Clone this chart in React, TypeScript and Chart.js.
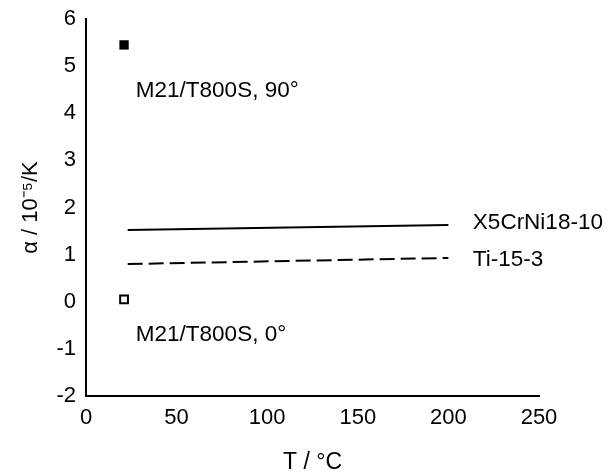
import React, { useEffect, useRef } from "react";
import { Chart, registerables } from "chart.js";

Chart.register(...registerables);

const filled90X = [21];
const filled90Y = [5.45];
const open0X = [21];
const open0Y = [0.05];
const steelX = [23, 200];
const steelY = [1.52, 1.63];
const titanX = [23, 200];
const titanY = [0.8, 0.93];

const xTicks = [0, 50, 100, 150, 200, 250];
const yTicks = [-2, -1, 0, 1, 2, 3, 4, 5, 6];

const labelTexts = ["M21/T800S, 90°", "M21/T800S, 0°", "X5CrNi18-10", "Ti-15-3"];
const labelX = [27.5, 27.5, 213.5, 213.5];
const labelY = [4.47, -0.71, 1.67, 0.9];

const FONT = "'Liberation Sans', Arial, sans-serif";

const toPts = (xs: number[], ys: number[]) => xs.map((x, i) => ({ x, y: ys[i] }));

const labelPlugin = {
  id: "labels",
  afterDatasetsDraw(chart: any) {
    const { ctx, scales } = chart;
    ctx.save();
    ctx.fillStyle = "#000";
    ctx.font = `22.5px ${FONT}`;
    ctx.textAlign = "left";
    ctx.textBaseline = "middle";
    labelTexts.forEach((t, i) => {
      ctx.fillText(t, scales.x.getPixelForValue(labelX[i]), scales.y.getPixelForValue(labelY[i]));
    });
    ctx.restore();
  },
};

export default function App() {
  const ref = useRef<HTMLCanvasElement>(null);
  useEffect(() => {
    if (!ref.current) return;
    const chart = new Chart(ref.current, {
      type: "scatter",
      data: {
        datasets: [
          {
            label: "X5CrNi18-10",
            data: toPts(steelX, steelY),
            showLine: true,
            borderColor: "#000",
            borderWidth: 2,
            pointRadius: 0,
          },
          {
            label: "Ti-15-3",
            data: toPts(titanX, titanY),
            showLine: true,
            borderColor: "#000",
            borderWidth: 2,
            borderDash: [15, 6],
            pointRadius: 0,
          },
          {
            label: "M21/T800S, 90°",
            data: toPts(filled90X, filled90Y),
            pointStyle: "rect",
            pointRadius: 6.6,
            backgroundColor: "#000",
            borderColor: "#000",
            borderWidth: 0,
          },
          {
            label: "M21/T800S, 0°",
            data: toPts(open0X, open0Y),
            pointStyle: "rect",
            pointRadius: 5.5,
            backgroundColor: "#fff",
            borderColor: "#000",
            borderWidth: 2,
          },
        ],
      },
      options: {
        animation: false,
        responsive: false,
        maintainAspectRatio: false,
        layout: { padding: { top: 19, right: 73, left: 0, bottom: 0 } },
        plugins: { legend: { display: false }, tooltip: { enabled: false } },
        scales: {
          x: {
            type: "linear",
            min: 0,
            max: 250,
            afterBuildTicks: (s: any) => {
              s.ticks = xTicks.map((v) => ({ value: v }));
            },
            afterFit: (s: any) => {
              s.height = 76;
            },
            grid: { display: false },
            border: { display: true, color: "#000", width: 2 },
            ticks: { color: "#000", font: { family: FONT, size: 22 }, padding: 1, maxRotation: 0 },
            title: {
              display: true,
              text: "T / °C",
              color: "#000",
              font: { family: FONT, size: 23 },
              padding: { top: 0, bottom: -4 },
            },
          },
          y: {
            type: "linear",
            min: -2,
            max: 6,
            afterBuildTicks: (s: any) => {
              s.ticks = yTicks.map((v) => ({ value: v }));
            },
            afterFit: (s: any) => {
              s.width = 86;
            },
            grid: { display: false },
            border: { display: true, color: "#000", width: 2 },
            ticks: { color: "#000", font: { family: FONT, size: 22 }, padding: 2 },
            title: {
              display: true,
              text: "α / 10⁻⁵/K",
              color: "#000",
              font: { family: FONT, size: 22 },
              padding: { top: 18, bottom: 0 },
            },
          },
        },
      },
      plugins: [labelPlugin],
    });
    return () => chart.destroy();
  }, []);
  return (
    <div style={{ position: "fixed", left: 0, top: 0, width: 612, height: 472, background: "#fff" }}>
      <canvas ref={ref} width={612} height={472} style={{ width: 612, height: 472 }} />
    </div>
  );
}
